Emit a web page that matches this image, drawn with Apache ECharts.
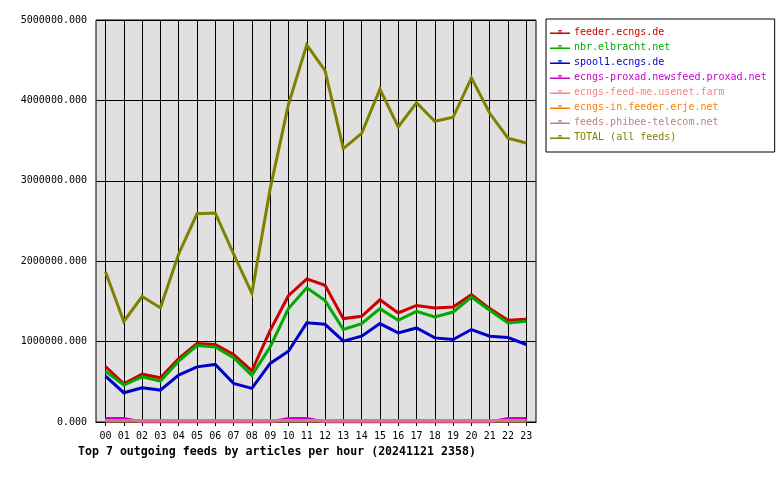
<!DOCTYPE html>
<html>
<head>
<meta charset="utf-8">
<script src="https://cdn.jsdelivr.net/npm/echarts@6/dist/echarts.min.js"></script>
<style>
html,body{margin:0;padding:0;background:#fff;}
#chart{width:780px;height:480px;}
</style>
</head>
<body>
<div id="chart"></div>
<script>
const hours = [0,1,2,3,4,5,6,7,8,9,10,11,12,13,14,15,16,17,18,19,20,21,22,23];
const yTicks = [0,1000000,2000000,3000000,4000000,5000000];
const seriesNames = [
  'feeder.ecngs.de',
  'nbr.elbracht.net',
  'spool1.ecngs.de',
  'ecngs-proxad.newsfeed.proxad.net',
  'ecngs-feed-me.usenet.farm',
  'ecngs-in.feeder.erje.net',
  'feeds.phibee-telecom.net',
  'TOTAL (all feeds)'
];
const seriesColors = ['#cc0000','#00aa00','#0000cc','#cc00cc','#ff8080','#ff8000','#c08080','#808000'];

const feederEcngs = [690000,475000,595000,550000,790000,976000,964000,840000,637000,1140000,1570000,1780000,1700000,1286000,1315000,1520000,1356000,1450000,1418000,1430000,1584000,1410000,1265000,1278000];
const nbrElbracht = [630000,460000,562000,509000,757000,950000,934000,800000,580000,934000,1410000,1670000,1510000,1150000,1224000,1410000,1265000,1377000,1306000,1368000,1555000,1390000,1232000,1253000];
const spool1Ecngs = [571000,364000,426000,397000,583000,686000,716000,480000,418000,728000,880000,1233000,1215000,1005000,1067000,1224000,1108000,1170000,1046000,1026000,1150000,1067000,1050000,964000];
const proxad = [45000,45000,0,0,0,0,0,0,0,0,45000,45000,0,0,0,0,0,0,0,0,0,0,45000,45000];
const feedMe = [14000,14000,14000,14000,14000,14000,14000,14000,14000,14000,14000,14000,14000,14000,14000,14000,14000,14000,14000,14000,14000,14000,14000,14000];
const erje = [14000,14000,14000,14000,14000,14000,14000,14000,14000,14000,14000,14000,14000,14000,14000,14000,14000,14000,14000,14000,14000,14000,14000,14000];
const phibee = [16000,16000,16000,16000,16000,16000,16000,16000,16000,16000,16000,16000,16000,16000,16000,16000,16000,16000,16000,16000,16000,16000,16000,16000];
const total = [1870000,1250000,1560000,1420000,2090000,2590000,2600000,2090000,1600000,2900000,3950000,4690000,4370000,3400000,3590000,4140000,3670000,3970000,3740000,3790000,4280000,3840000,3530000,3470000];

const seriesValues = [feederEcngs, nbrElbracht, spool1Ecngs, proxad, feedMe, erje, phibee, total];
const titleText = 'Top 7 outgoing feeds by articles per hour (20241121 2358)';

const FONT = '"DejaVu Sans Mono", "Liberation Mono", monospace';
const chart = echarts.init(document.getElementById('chart'), null, {renderer:'canvas'});

const legendIcon = 'path://M0,4 L20,4 L20,5.4 L0,5.4 Z M8.5,1.5 L11.5,1.5 L11.5,4 L10.6,4 L10.6,2.4 L9.4,2.4 L9.4,4 L8.5,4 Z';

const option = {
  animation: false,
  backgroundColor: '#ffffff',
  title: {
    text: titleText,
    left: 78,
    top: 446,
    padding: 0,
    textStyle: {fontFamily: FONT, fontSize: 11.6, fontWeight: 'bold', color: '#000'}
  },
  legend: {
    orient: 'vertical',
    left: 546,
    top: 19,
    padding: [8, 8, 10, 4],
    backgroundColor: '#ffffff',
    borderColor: '#000000',
    borderWidth: 1,
    itemWidth: 20,
    itemHeight: 6,
    itemGap: 5,
    itemStyle: {borderWidth: 0},
    icon: legendIcon,
    data: seriesNames.map((n, i) => ({name: n, textStyle: {color: seriesColors[i]}})),
    textStyle: {fontFamily: FONT, fontSize: 10, lineHeight: 10, padding: [0,0,0,-1]}
  },
  grid: {
    left: 96, top: 20, width: 440, height: 402,
    show: true, backgroundColor: '#e0e0e0', borderColor: '#000', borderWidth: 1,
    containLabel: false
  },
  xAxis: {
    type: 'value',
    min: -0.519,
    max: 23.53,
    axisLine: {show: true, onZero: false, lineStyle: {color: '#000', width: 1}},
    axisTick: {show: true, length: 4, inside: false, customValues: hours, lineStyle: {color: '#000'}},
    axisLabel: {
      customValues: hours,
      margin: 9,
      fontFamily: FONT, fontSize: 10, color: '#000',
      formatter: v => String(Math.round(v)).padStart(2, '0')
    },
    splitLine: {show: true, lineStyle: {color: '#000', width: 1}}
  },
  yAxis: {
    type: 'value',
    min: yTicks[0],
    max: yTicks[yTicks.length - 1],
    interval: 1000000,
    axisLine: {show: true, lineStyle: {color: '#000', width: 1}},
    axisTick: {show: true, length: 5, lineStyle: {color: '#000'}},
    axisLabel: {
      margin: 9,
      fontFamily: FONT, fontSize: 10, color: '#000',
      formatter: v => v.toFixed(3)
    },
    splitLine: {show: true, lineStyle: {color: '#000', width: 1}}
  },
  series: seriesNames.map((n, i) => ({
    name: n,
    type: 'line',
    data: hours.map((h, j) => [h, seriesValues[i][j]]),
    symbol: 'none',
    color: seriesColors[i],
    lineStyle: {width: 3, color: seriesColors[i], cap: 'butt', join: 'miter'},
    itemStyle: {color: seriesColors[i]},
    clip: true,
    silent: true
  }))
};
chart.setOption(option);
</script>
</body>
</html>
